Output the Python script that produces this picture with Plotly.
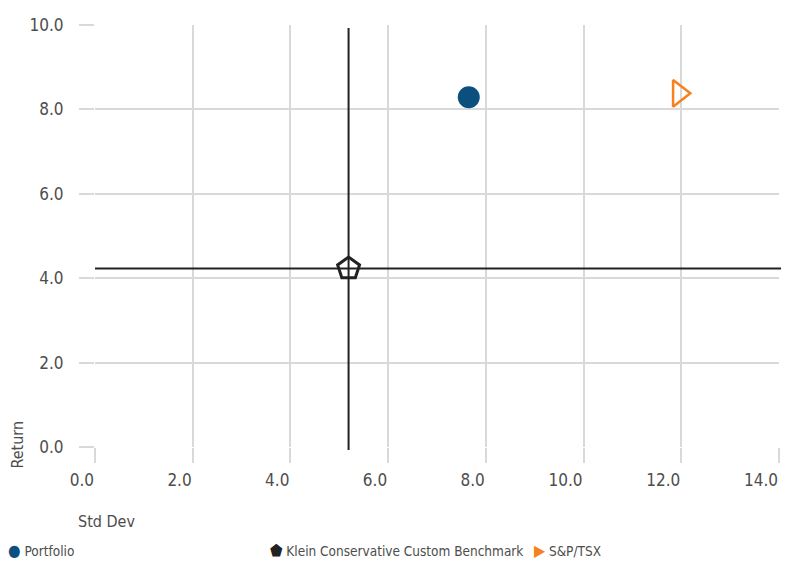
import plotly.graph_objects as go

# Data
series_names = ["Portfolio", "Klein Conservative Custom Benchmark", "S&P/TSX"]
std_dev = [7.65, 5.19, 11.95]
returns = [8.29, 4.23, 8.38]
x_ticks = [0, 2, 4, 6, 8, 10, 12, 14]
y_ticks = [0, 2, 4, 6, 8, 10]
x_title = "Std Dev"
y_title = "Return"

FONT = "Liberation Sans Narrow, DejaVu Sans Condensed, Roboto, sans-serif"
TXT = "#4d4d4d"
GRID = "#d9d9d9"
BLUE = "#0b4f7e"
ORANGE = "#f5821f"
DARK = "#222222"

fig = go.Figure()

# crosshair lines through benchmark
bx, by = std_dev[1], returns[1]
fig.add_shape(type="line", xref="x", yref="paper", x0=bx, x1=bx, y0=-0.007, y1=0.993,
              line=dict(color=DARK, width=2), layer="above")
fig.add_shape(type="line", xref="paper", yref="y", x0=0, x1=1.003, y0=by, y1=by,
              line=dict(color=DARK, width=2), layer="above")

fig.add_trace(go.Scatter(x=[std_dev[0]], y=[returns[0]], mode="markers", name=series_names[0],
                         marker=dict(symbol="circle", size=22, color=BLUE, line=dict(width=0)),
                         showlegend=False))
fig.add_trace(go.Scatter(x=[std_dev[1]], y=[returns[1]], mode="markers", name=series_names[1],
                         marker=dict(symbol="pentagon", size=23, color="rgba(255,255,255,0.75)",
                                     line=dict(width=3, color=DARK)),
                         showlegend=False))
fig.add_trace(go.Scatter(x=[std_dev[2]], y=[returns[2]], mode="markers", name=series_names[2],
                         marker=dict(symbol="triangle-right", size=23, color="rgba(255,255,255,0)",
                                     line=dict(width=2.5, color=ORANGE)),
                         showlegend=False))

fig.update_xaxes(range=[0, 14], tickvals=x_ticks, ticktext=[f"{v:.1f}" for v in x_ticks],
                 showgrid=True, gridcolor=GRID, gridwidth=2, zeroline=False,
                 ticks="outside", ticklen=15, tickcolor=GRID, tickwidth=2,
                 ticklabelposition="outside left", ticklabelstandoff=18,
                 tickfont=dict(family=FONT, size=17, color=TXT), showline=False)
fig.update_yaxes(range=[0, 10], tickvals=y_ticks, ticktext=[f"{v:.1f}" for v in y_ticks],
                 showgrid=True, gridcolor=GRID, gridwidth=2, zeroline=False,
                 ticks="outside", ticklen=15, tickcolor=GRID, tickwidth=2,
                 ticklabelstandoff=12,
                 tickfont=dict(family=FONT, size=17, color=TXT), showline=False)

annotations = [
    dict(text=x_title, xref="paper", yref="paper", x=-0.028, y=-0.176, xanchor="left", yanchor="middle",
         showarrow=False, font=dict(family=FONT, size=16, color=TXT)),
    dict(text=y_title, xref="paper", yref="paper", x=-0.113, y=0.005, xanchor="center", yanchor="middle",
         textangle=-90, showarrow=False, font=dict(family=FONT, size=16, color=TXT)),
]
legend_items = [
    (6, "●", BLUE, series_names[0]),
    (268, "⬟", DARK, series_names[1]),
    (532, "▶", ORANGE, series_names[2]),
]
for px, glyph, col, name in legend_items:
    xp = (px - 95) / (779 - 95)
    annotations.append(dict(text=f"<span style='color:{col};font-size:16px'>{glyph}</span> {name}",
                            xref="paper", yref="paper", x=xp, y=-0.246, xanchor="left", yanchor="middle",
                            showarrow=False, font=dict(family=FONT, size=13.5, color=TXT)))

fig.update_layout(width=794, height=561, margin=dict(l=95, r=15, t=25, b=114),
                  plot_bgcolor="white", paper_bgcolor="white", showlegend=False,
                  annotations=annotations)

fig.write_html("out.html")
